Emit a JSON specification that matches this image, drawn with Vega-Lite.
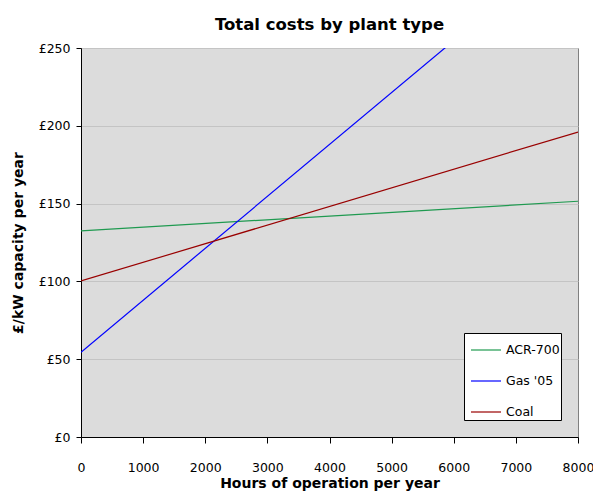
{
  "$schema": "https://vega.github.io/schema/vega-lite/v6.json",
  "autosize": {"type": "none"},
  "width": 497,
  "height": 389,
  "padding": {"left": 81, "top": 48, "right": 15, "bottom": 67},
  "background": "white",
  "title": {
    "text": "Total costs by plant type",
    "font": "DejaVu Sans",
    "fontSize": 16.5,
    "fontWeight": "bold",
    "color": "black",
    "anchor": "middle",
    "offset": 9
  },
  "data": {
    "values": [
      {"plant": "ACR-700", "hours": 0, "cost": 132.5},
      {"plant": "ACR-700", "hours": 8000, "cost": 151.5},
      {"plant": "Gas '05", "hours": 0, "cost": 54.5},
      {"plant": "Gas '05", "hours": 8000, "cost": 321.5},
      {"plant": "Coal", "hours": 0, "cost": 100.3},
      {"plant": "Coal", "hours": 8000, "cost": 196}
    ]
  },
  "mark": {"type": "line", "strokeWidth": 1.2, "clip": true},
  "encoding": {
    "x": {
      "field": "hours",
      "type": "quantitative",
      "scale": {"domain": [0, 8000], "nice": false},
      "axis": {
        "title": "Hours of operation per year",
        "values": [0, 1000, 2000, 3000, 4000, 5000, 6000, 7000, 8000],
        "format": "d",
        "grid": false,
        "labelFlush": false,
        "labelOverlap": false,
        "tickSize": 6,
        "labelPadding": 18,
        "titlePadding": 3
      }
    },
    "y": {
      "field": "cost",
      "type": "quantitative",
      "scale": {"domain": [0, 250], "nice": false},
      "axis": {
        "title": "£/kW capacity per year",
        "values": [0, 50, 100, 150, 200, 250],
        "labelExpr": "'£' + datum.value",
        "grid": true,
        "labelFlush": false,
        "labelOverlap": false,
        "tickSize": 5,
        "labelPadding": 6,
        "titlePadding": 13
      }
    },
    "color": {
      "field": "plant",
      "type": "nominal",
      "sort": null,
      "scale": {
        "domain": ["ACR-700", "Gas '05", "Coal"],
        "range": ["#1f9a50", "#0000ff", "#990000"]
      },
      "legend": {
        "title": null,
        "orient": "none",
        "legendX": 383,
        "legendY": 285,
        "fillColor": "white",
        "strokeColor": "black",
        "padding": 1,
        "symbolType": "stroke",
        "symbolSize": 900,
        "symbolStrokeWidth": 1.2,
        "symbolOffset": 5,
        "labelOffset": 4,
        "rowPadding": 8,
        "labelFont": "DejaVu Sans",
        "labelFontSize": 12.5,
        "labelColor": "black"
      }
    }
  },
  "config": {
    "view": {"fill": "#dcdcdc", "stroke": "#808080", "strokeWidth": 1},
    "axis": {
      "domainColor": "black",
      "domainWidth": 1,
      "tickColor": "black",
      "tickWidth": 1,
      "gridColor": "#c4c4c4",
      "gridWidth": 1,
      "labelFont": "DejaVu Sans",
      "labelFontSize": 12.5,
      "labelColor": "black",
      "titleFont": "DejaVu Sans",
      "titleFontSize": 14,
      "titleFontWeight": "bold",
      "titleColor": "black"
    }
  }
}
